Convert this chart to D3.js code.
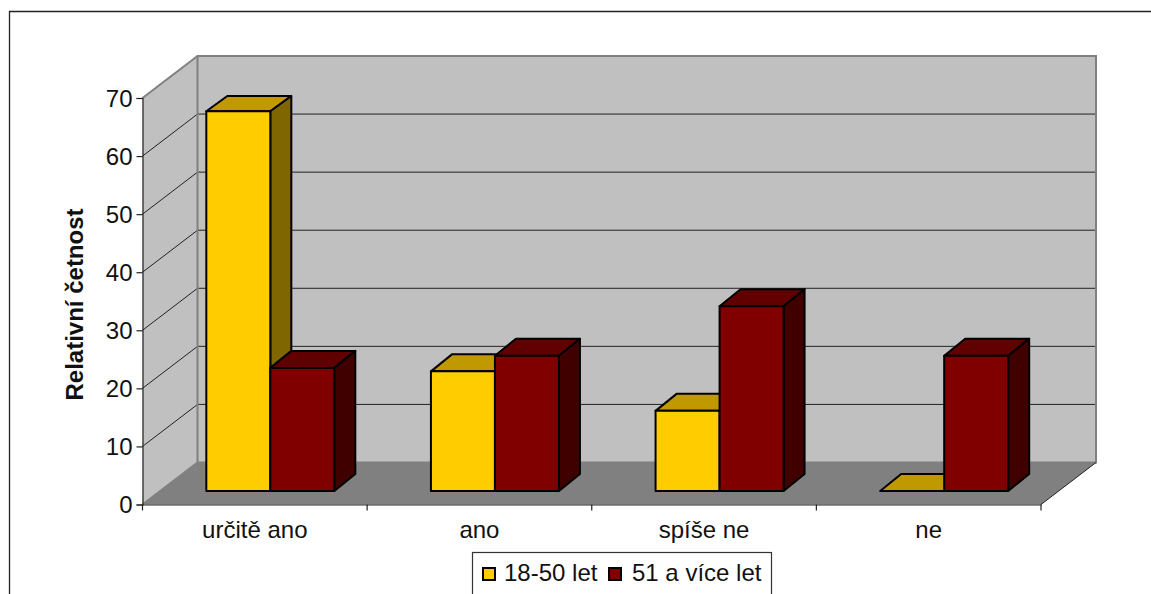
<!DOCTYPE html>
<html>
<head>
<meta charset="utf-8">
<script src="https://cdn.jsdelivr.net/npm/d3@7"></script>
<style>
	html, body { margin: 0; padding: 0; background: #fff; overflow: hidden; }
	svg { display: block; }
	text { font-family: "Liberation Sans", Arial, sans-serif; fill: #111; }
</style>
</head>
<body>
<div id="chart"></div>
<script>
var categories = ["určitě ano", "ano", "spíše ne", "ne"];
var seriesNames = ["18-50 let", "51 a více let"];
var younger = [65.4, 20.6, 13.8, 0];
var older = [21.2, 23.3, 31.8, 23.3];
var yTicks = [0, 10, 20, 30, 40, 50, 60, 70];

var width = 1151, height = 594;

// depth of the room and of one bar, as screen offsets
var wallDx = 55, wallDy = -42;
var barDx = 21, barDy = -17;
var frontDx = 15.5, frontDy = -13.5;

var fills = [
	{ front: "#ffcc00", top: "#c09900", side: "#806600" },
	{ front: "#800000", top: "#600000", side: "#400000" }
];

var svg = d3.select("#chart")
	.append("svg")
	.attr("width", width)
	.attr("height", height);

var x = d3.scaleBand().domain(categories).range([142.5, 1041]);
var y = d3.scaleLinear().domain([0, 70]).range([504.5, 98]);
var xInner = d3.scaleBand().domain([0, 1]).range([-64, 64]);

function poly(points) {
	return points.map(function(p) { return p.join(","); }).join(" ");
}

// outer frame: only top and left edges are visible
svg.append("path")
	.attr("d", "M9.5," + height + "V11.5H" + width)
	.attr("fill", "none")
	.attr("stroke", "#222")
	.attr("stroke-width", 1.3);

var x0 = x.range()[0], x1 = x.range()[1];
var y0 = y(0), yMax = y(70);

// floor, side wall, back wall
svg.append("polygon")
	.attr("points", poly([[x0, y0], [x0 + wallDx, y0 + wallDy], [x1 + wallDx, y0 + wallDy], [x1, y0]]))
	.attr("fill", "#808080");
svg.append("polygon")
	.attr("points", poly([[x0, y0], [x0 + wallDx, y0 + wallDy], [x0 + wallDx, yMax + wallDy], [x0, yMax]]))
	.attr("fill", "#c0c0c0");
svg.append("rect")
	.attr("x", x0 + wallDx)
	.attr("y", yMax + wallDy)
	.attr("width", x1 - x0)
	.attr("height", y0 - yMax)
	.attr("fill", "#c0c0c0");

// gridlines wrapping the side wall and the back wall
var grid = svg.append("g");
grid.selectAll("path")
	.data(yTicks.slice(1, -1))
	.enter()
	.append("path")
	.attr("d", function(d) {
		return "M" + x0 + "," + y(d) + "L" + (x0 + wallDx) + "," + (y(d) + wallDy) + "H" + (x1 + wallDx);
	})
	.attr("fill", "none")
	.attr("stroke", "#222")
	.attr("stroke-width", 1);

// wall outlines
svg.append("path")
	.attr("d", "M" + x0 + "," + y0 + "L" + (x0 + wallDx) + "," + (y0 + wallDy) + "H" + (x1 + wallDx)
		+ "V" + (yMax + wallDy) + "H" + (x0 + wallDx) + "V" + (y0 + wallDy)
		+ "M" + x0 + "," + yMax + "L" + (x0 + wallDx) + "," + (yMax + wallDy))
	.attr("fill", "none")
	.attr("stroke", "#808080")
	.attr("stroke-width", 2);
svg.append("path")
	.attr("d", "M" + x1 + "," + y0 + "L" + (x1 + wallDx) + "," + (y0 + wallDy))
	.attr("fill", "none")
	.attr("stroke", "#222")
	.attr("stroke-width", 1);

// bars, one category at a time so the right bar overlaps the left one
var bars = [];
categories.forEach(function(c, i) {
	bars.push({ cat: c, s: 0, v: younger[i] });
	bars.push({ cat: c, s: 1, v: older[i] });
});

var barGroup = svg.selectAll("g.bar")
	.data(bars)
	.enter()
	.append("g")
	.attr("class", "bar")
	.attr("stroke", "#000")
	.attr("stroke-width", 2)
	.attr("stroke-linejoin", "round");

function corners(d) {
	var left = x(d.cat) + x.bandwidth() / 2 + frontDx + xInner(d.s);
	var right = left + xInner.bandwidth();
	var top = y(d.v) + frontDy;
	// the back edge of a tall bar stays just under the axis maximum
	var back = Math.max(top + barDy, yMax - 2);
	return { left: left, right: right, top: top, back: back, bottom: y(0) + frontDy };
}

barGroup.append("polygon")
	.attr("points", function(d) {
		var c = corners(d);
		return poly([[c.left, c.top], [c.left + barDx, c.back], [c.right + barDx, c.back], [c.right, c.top]]);
	})
	.attr("fill", function(d) { return fills[d.s].top; });

barGroup.filter(function(d) { return d.v > 0; }).append("polygon")
	.attr("points", function(d) {
		var c = corners(d);
		return poly([[c.right, c.top], [c.right + barDx, c.back], [c.right + barDx, c.bottom + barDy], [c.right, c.bottom]]);
	})
	.attr("fill", function(d) { return fills[d.s].side; });

barGroup.filter(function(d) { return d.v > 0; }).append("rect")
	.attr("x", function(d) { return corners(d).left; })
	.attr("y", function(d) { return corners(d).top; })
	.attr("width", xInner.bandwidth())
	.attr("height", function(d) { return corners(d).bottom - corners(d).top; })
	.attr("fill", function(d) { return fills[d.s].front; });

// axes
var yAxis = d3.axisLeft(y).tickValues(yTicks).tickSize(6).tickPadding(4);
var yG = svg.append("g").attr("transform", "translate(" + x0 + ",0)").call(yAxis);
yG.selectAll("text").attr("font-size", "24px").attr("dy", "0.35em");

var xAxis = d3.axisBottom(x).tickSize(0).tickPadding(25);
var xG = svg.append("g").attr("transform", "translate(0," + y0 + ")").call(xAxis);
xG.selectAll("text").attr("font-size", "24px").attr("dy", "0.35em");

// category ticks sit between the groups
svg.selectAll("line.sep")
	.data(d3.range(categories.length + 1))
	.enter()
	.append("line")
	.attr("class", "sep")
	.attr("x1", function(i) { return x0 + i * x.bandwidth(); })
	.attr("x2", function(i) { return x0 + i * x.bandwidth(); })
	.attr("y1", y0)
	.attr("y2", y0 + 6);

svg.selectAll(".domain, .tick line, line.sep")
	.attr("stroke", "#222")
	.attr("stroke-width", 1.2);
svg.selectAll(".tick text").attr("fill", "#111").attr("font-family", "\"Liberation Sans\", Arial, sans-serif");

svg.append("text")
	.attr("transform", "translate(83,304.5) rotate(-90)")
	.attr("text-anchor", "middle")
	.attr("font-size", "24px")
	.attr("font-weight", "bold")
	.text("Relativní četnost");

// legend, its lower edge runs off the page
var legend = svg.append("g");
legend.append("rect")
	.attr("x", 472.5)
	.attr("y", 552.5)
	.attr("width", 299)
	.attr("height", 60)
	.attr("fill", "#fff")
	.attr("stroke", "#333")
	.attr("stroke-width", 1.2);

var legendX = [[483, 504], [609, 632]];
seriesNames.forEach(function(name, i) {
	legend.append("rect")
		.attr("x", legendX[i][0])
		.attr("y", 568)
		.attr("width", 12)
		.attr("height", 12)
		.attr("fill", fills[i].front)
		.attr("stroke", "#000")
		.attr("stroke-width", 2);
	legend.append("text")
		.attr("x", legendX[i][1])
		.attr("y", 581)
		.attr("font-size", "24px")
		.text(name);
});
</script>
</body>
</html>
